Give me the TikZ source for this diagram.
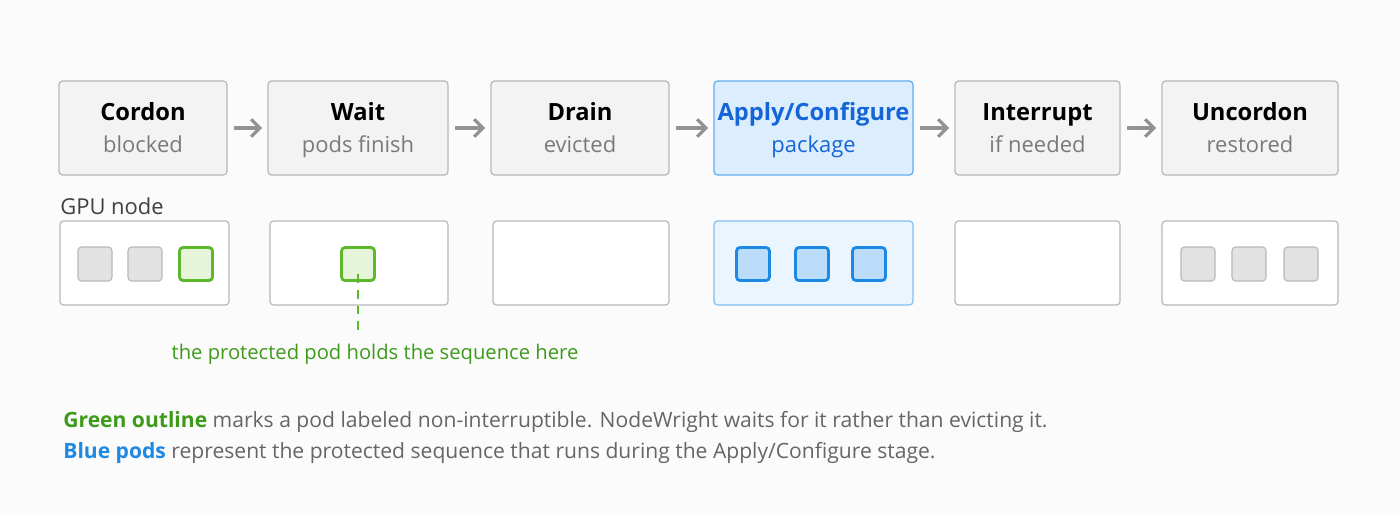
\documentclass[tikz,border=0pt]{standalone}
\usepackage{fontspec}
\setmainfont{Open Sans}
\usetikzlibrary{positioning,arrows.meta}
\definecolor{boxgray}{HTML}{F3F3F3}
\definecolor{linegray}{HTML}{B8B8B8}
\definecolor{subgray}{HTML}{7A7A7A}
\definecolor{podgray}{HTML}{E2E2E2}
\definecolor{lightblue}{HTML}{DCEEFD}
\definecolor{bluelight}{HTML}{EAF5FE}
\definecolor{bluepod}{HTML}{BCDDFA}
\definecolor{blueline}{HTML}{1E88E5}
\definecolor{bluetext}{HTML}{1565D8}
\definecolor{greenline}{HTML}{5DB82C}
\definecolor{greenpod}{HTML}{E6F4D9}
\definecolor{greentext}{HTML}{3D9A1A}
\tikzset{
  stage/.style={draw=linegray, fill=boxgray, rounded corners=2pt, line width=0.7pt, minimum height=1.88cm, inner sep=0pt},
  ttl/.style={font=\fontsize{13.5}{16}\selectfont\bfseries, inner sep=0pt, anchor=base},
  sub/.style={font=\fontsize{12.5}{15}\selectfont, text=subgray, inner sep=0pt, anchor=base},
  gpu/.style={draw=linegray, fill=white, rounded corners=2pt, line width=0.7pt, minimum height=1.68cm, inner sep=0pt},
  pod/.style={draw=linegray, fill=podgray, rounded corners=2pt, line width=0.6pt, minimum size=0.68cm, inner sep=0pt},
  gpod/.style={pod, draw=greenline, fill=greenpod, line width=1.6pt, minimum size=0.66cm},
  bpod/.style={pod, draw=blueline, fill=bluepod, line width=1.6pt, minimum size=0.66cm},
  flow/.style={-{Straight Barb[length=5pt,width=10pt]}, draw=gray!85, line width=1.8pt, shorten <=3.5pt, shorten >=3pt}
}
\begin{document}
\begin{tikzpicture}[x=0.02cm, y=-0.02cm]
        \fill[white!97!gray] (0,0) rectangle (1400,515);
        % stages
        \foreach \nm/\xa/\xb/\title/\desc in {cordon/59/227/Cordon/blocked, wait/268/448/Wait/pods finish, drain/491/669/Drain/evicted, inter/955/1120/Interrupt/if needed, uncordon/1162/1338/Uncordon/restored}{
            \node[stage, minimum width={(\xb-\xa)*0.02cm}] (\nm) at ({(\xa+\xb)/2},128) {};
            \node[ttl] at ({(\xa+\xb)/2},120) {\title};
            \node[sub] at ({(\xa+\xb)/2},152) {\desc};
        }
        \node[stage, draw=blueline!70, fill=lightblue, minimum width=3.98cm] (apply) at (813.5,128) {};
        \node[ttl, text=bluetext] (applyttl) at (813.5,120) {Apply/Configure};
        \node[sub, text=bluetext] (applysub) at (813.5,152) {package};
        \draw[flow] (cordon) -- (wait);
        \draw[flow] (wait) -- (drain);
        \draw[flow] (drain) -- (apply);
        \draw[flow] (apply) -- (inter);
        \draw[flow] (inter) -- (uncordon);
        % gpu nodes
        \foreach \nm/\xa/\xb in {g1/60/229, g2/270/448, g3/493/669, g5/955/1120, g6/1162/1338}{
            \node[gpu, minimum width={(\xb-\xa)*0.02cm}] (\nm) at ({(\xa+\xb)/2},263) {};
        }
        \node[gpu, draw=blueline!55, fill=bluelight, minimum width=3.98cm] (g4) at (813.5,263) {};
        \node[anchor=south west, inner sep=0pt, text=black!75, font=\fontsize{12.5}{15}\selectfont] (gpulbl) at (60,215) {GPU node};
        % pods
        \node[pod] (p1) at (95,264) {};
        \node[pod] (p2) at (145,264) {};
        \node[gpod] (p3) at (196,264) {};
        \node[gpod] (p4) at (358,264) {};
        \node[bpod] (p5) at (753,264) {};
        \node[bpod] (p6) at (812,264) {};
        \node[bpod] (p7) at (869,264) {};
        \node[pod] (p8) at (1198,264) {};
        \node[pod] (p9) at (1249,264) {};
        \node[pod] (p10) at (1301,264) {};
        \coordinate (hold) at (358,336);
        \draw[greenline, line width=1pt, dash pattern=on 5pt off 4pt] (p4.south) ++(0,-8) -- (hold);
        \node[text=greentext, font=\fontsize{11.5}{14}\selectfont] (holdlbl) at (375,354) {the protected pod holds the sequence here};
        % notes
        \node[anchor=west, inner sep=0pt, text=black!60, font=\fontsize{12}{15}\selectfont] (note1) at (63,422) {\textcolor{greentext}{\bfseries Green outline} marks a pod labeled non-interruptible. NodeWright waits for it rather than evicting it.};
        \node[anchor=west, inner sep=0pt, text=black!60, font=\fontsize{12}{15}\selectfont] (note2) at (63,453) {\textcolor{blueline}{\bfseries Blue pods} represent the protected sequence that runs during the Apply/Configure stage.};
\end{tikzpicture}
\end{document}
